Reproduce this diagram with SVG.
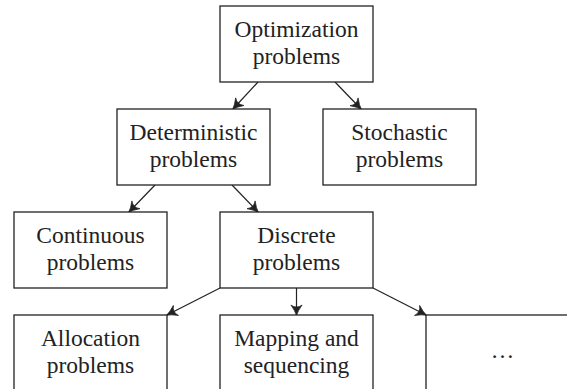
<svg xmlns="http://www.w3.org/2000/svg" width="567" height="389" viewBox="0 0 567 389">
  <style>
    .box { fill: #ffffff; stroke: #222222; stroke-width: 1.3; }
    .lbl { font-family: "Liberation Serif", "Times New Roman", serif; font-size: 23.5px; fill: #222222; text-anchor: middle; }
    .edge { fill: none; stroke: #222222; stroke-width: 1.2; marker-end: url(#tip); }
  </style>
  <defs>
    <!-- curved barbed arrow tip -->
    <marker id="tip" markerUnits="userSpaceOnUse" markerWidth="16" markerHeight="16" viewBox="-12 -8 14 16" refX="0" refY="0" orient="auto">
      <path d="M0.5,0 Q-4,-1.3 -10,-5.6 Q-5.8,0 -10,5.6 Q-4,1.3 0.5,0 Z" fill="#222222" stroke="#222222" stroke-width="0.7" stroke-linejoin="round"/>
    </marker>
  </defs>

  <!-- connectors -->
  <g id="connectors">
    <line class="edge" x1="258" y1="82" x2="233" y2="109"/>
    <line class="edge" x1="335" y1="82" x2="361" y2="109"/>
    <line class="edge" x1="155" y1="185" x2="129" y2="212"/>
    <line class="edge" x1="232" y1="185" x2="258" y2="212"/>
    <line class="edge" x1="220" y1="288" x2="167" y2="315"/>
    <line class="edge" x1="296.5" y1="288" x2="296.5" y2="315"/>
    <line class="edge" x1="373" y1="288" x2="426" y2="315"/>
  </g>

  <!-- nodes -->
  <g id="optimization">
    <rect class="box" x="220" y="6" width="153" height="76"/>
    <text class="lbl" x="296.5" y="37">Optimization</text>
    <text class="lbl" x="296.5" y="63.5">problems</text>
  </g>
  <g id="deterministic">
    <rect class="box" x="117" y="109" width="153" height="76"/>
    <text class="lbl" x="193.5" y="140">Deterministic</text>
    <text class="lbl" x="193.5" y="166.5">problems</text>
  </g>
  <g id="stochastic">
    <rect class="box" x="323" y="109" width="153" height="76"/>
    <text class="lbl" x="399.5" y="140">Stochastic</text>
    <text class="lbl" x="399.5" y="166.5">problems</text>
  </g>
  <g id="continuous">
    <rect class="box" x="14" y="212" width="153" height="76"/>
    <text class="lbl" x="90.5" y="243">Continuous</text>
    <text class="lbl" x="90.5" y="269.5">problems</text>
  </g>
  <g id="discrete">
    <rect class="box" x="220" y="212" width="153" height="76"/>
    <text class="lbl" x="296.5" y="243">Discrete</text>
    <text class="lbl" x="296.5" y="269.5">problems</text>
  </g>
  <g id="allocation">
    <rect class="box" x="14" y="315" width="153" height="76"/>
    <text class="lbl" x="90.5" y="346">Allocation</text>
    <text class="lbl" x="90.5" y="372.5">problems</text>
  </g>
  <g id="mapping">
    <rect class="box" x="220" y="315" width="153" height="76"/>
    <text class="lbl" x="296.5" y="346">Mapping and</text>
    <text class="lbl" x="296.5" y="372.5">sequencing</text>
  </g>
  <g id="others">
    <rect class="box" x="426" y="315" width="153" height="76"/>
    <text class="lbl" x="502.5" y="358">…</text>
  </g>
</svg>
